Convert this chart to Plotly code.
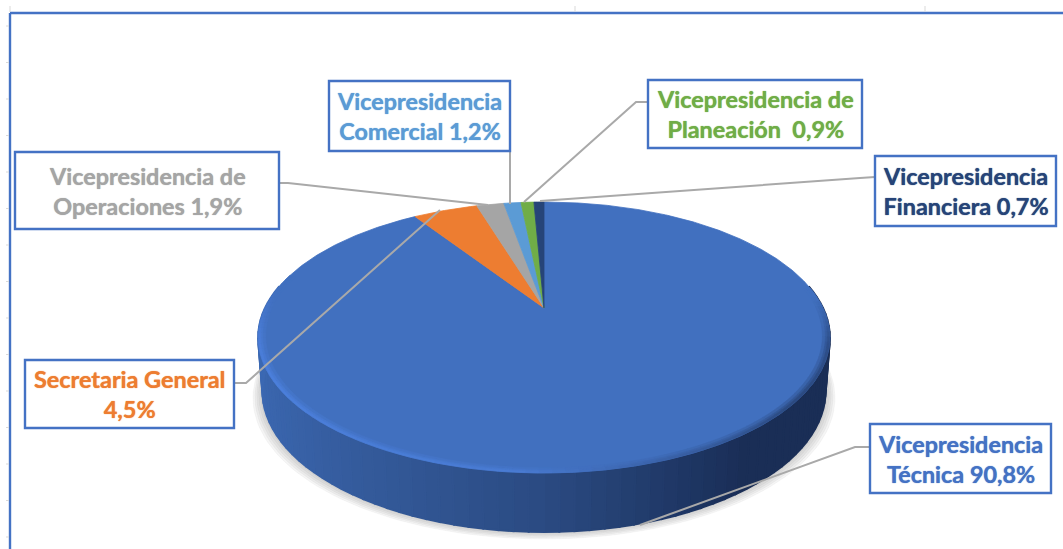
import numpy as np
import plotly.graph_objects as go

# ---- data ----
line1 = ["Vicepresidencia", "Secretaria General", "Vicepresidencia de", "Vicepresidencia", "Vicepresidencia de", "Vicepresidencia"]
line2 = ["Técnica", "", "Operaciones", "Comercial", "Planeación ", "Financiera"]
values = [90.8, 4.5, 1.9, 1.2, 0.9, 0.7]
colors = ["#4170BF", "#ED7D31", "#A5A5A5", "#5B9BD5", "#70AD47", "#264478"]
text_colors = ["#4472C4", "#ED7D31", "#A5A5A5", "#5B9BD5", "#70AD47", "#264478"]

# ---- layout constants (pixels of the 1063x549 canvas) ----
W, H = 1063, 549
CX, APEX_Y, TILT, K_X, K_Y = 544.0, 308.0, 0.2177, 279.0, -62.0
ELL_CY = 337.5
boxes = [(870, 424, 1051, 493), (25, 360, 234, 428), (15, 152, 279, 229),
         (329, 81, 510, 151), (648, 80, 862, 148), (875, 156, 1056, 226)]
leaders = [[(870, 447), (855, 447), (640, 525)],
           [(234, 383), (246, 383), (440, 210)],
           [(279, 183), (288, 183), (488, 205)],
           [(510, 151), (510, 204)],
           [(648, 102), (636, 102), (524, 202)],
           [(875, 177), (860, 178), (540, 201)]]
FONT = "Lato"
FONT_SIZE = 23.4


def project(theta_deg, r=1.0):
    t = np.radians(np.asarray(theta_deg, dtype=float))
    u, v = r * np.sin(t), r * np.cos(t)
    d = 1 + TILT * v
    return CX + K_X * u / d, (APEX_Y + K_Y * v) / d


def project_base(theta_deg):
    x, y = project(theta_deg)
    return CX + (x - CX) * 0.985, 391 + (y - ELL_CY) * 141 / 135.5


def hex2rgb(h):
    return np.array([int(h[i:i + 2], 16) for i in (1, 3, 5)], dtype=float)


def ramp(pos, keys, cols, mix=0.0, base="#4170BF"):
    rgb = np.array([hex2rgb(c) for c in cols])
    c = np.array([np.interp(pos, keys, rgb[:, i]) for i in range(3)])
    c = c * (1 - mix) + hex2rgb(base) * mix
    return "rgb(%d,%d,%d)" % tuple(c)


fig = go.Figure()


def poly(x, y, color, name=None, lw=0.8):
    fig.add_trace(go.Scatter(x=list(x), y=list(y), mode="lines", fill="toself", fillcolor=color,
                             line=dict(color=color, width=lw), hoverinfo="skip",
                             name=name, showlegend=False))


# soft shadow below the base
full = np.linspace(0, 360, 181)
for grow in (10, 8, 6, 4, 2):
    bx, by = project_base(full)
    poly(CX + (bx - CX) * (1 + grow / 300), by + grow * 0.7, "rgba(120,120,120,0.07)")

# side wall, shaded left to right
wall_keys = [-1, -0.5, 0, 0.4, 0.6, 1]
wall_cols = ["#3C69B3", "#345A9A", "#2B4B82", "#1F3765", "#1A2E56", "#1A2E56"]
edges = np.linspace(80, 280, 81)
for a, b in zip(edges[:-1], edges[1:]):
    xa, ya = project(a)
    xb, yb = project(b)
    xc, yc = project_base(b)
    xd, yd = project_base(a)
    pos = np.sin(np.radians((a + b) / 2))
    poly([xa, xb, xc, xd, xa], [ya, yb, yc, yd, ya], ramp(pos, wall_keys, wall_cols), lw=2)

# top face: one wedge per value, clockwise from 12 o'clock
total = sum(values)
start = 0.0
spans = []
for val, col, n1, n2 in zip(values, colors, line1, line2):
    end = start + 360 * val / total
    spans.append((start, end))
    th = np.linspace(start, end, max(3, int(end - start) * 2))
    x, y = project(th)
    poly(np.r_[CX, x, CX], np.r_[APEX_Y, y, APEX_Y], col, name=(n1 + " " + n2).strip())
    start = end

# bevel along the rim of the big wedge: outer strip, softer inner strips
rim_keys = [0, 85, 105, 130, 160, 185, 240, 258, 278, 327]
rim_cols = ["#4170BF", "#4170BF", "#2E4F8A", "#2C4A80", "#3A62A8", "#4A7CD4",
            "#4C80DC", "#4A7CD6", "#4170BF", "#4170BF"]
edges = np.linspace(spans[0][1], spans[0][0], 151)[::-1]
for r0, r1, mix in ((0.975, 0.985, 0.65), (0.985, 0.992, 0.3), (0.992, 1.0, 0.0)):
    for a, b in zip(edges[:-1], edges[1:]):
        mid = (a + b) / 2
        if mid < 80 or mid > 285:
            continue
        xa, ya = project(a, r1)
        xb, yb = project(b, r1)
        xc, yc = project(b, r0)
        xd, yd = project(a, r0)
        col = ramp(mid, rim_keys, rim_cols, mix)
        poly([xa, xb, xc, xd, xa], [ya, yb, yc, yd, ya], col, lw=0.6)

# leader lines
for pts in leaders:
    fig.add_trace(go.Scatter(x=[p[0] for p in pts], y=[p[1] for p in pts], mode="lines",
                             line=dict(color="#A9A9A9", width=2), hoverinfo="skip", showlegend=False))

shapes = []
annotations = []
for box, val, n1, n2, tc in zip(boxes, values, line1, line2, text_colors):
    x0, y0, x1, y1 = box
    shapes.append(dict(type="rect", x0=x0, y0=y0, x1=x1, y1=y1, xref="x", yref="y",
                       fillcolor="white", line=dict(color="#4472C4", width=2.4)))
    pct = f"{val:.1f}%".replace(".", ",")
    second = (n2 + " " + pct).strip()
    annotations.append(dict(x=(x0 + x1) / 2, y=(y0 + y1) / 2, xref="x", yref="y", showarrow=False,
                            text=f"<b>{n1}<br>{second}</b>", align="center",
                            font=dict(family=FONT, size=FONT_SIZE, color=tc, shadow=f"0 0 1px {tc}")))

# sheet frame and faint sheet ticks
frame = "#4472C4"
shapes.append(dict(type="line", x0=10, y0=13, x1=W, y1=13, line=dict(color=frame, width=2.4)))
shapes.append(dict(type="line", x0=10, y0=13, x1=10, y1=H, line=dict(color=frame, width=2.4)))
for ty in np.arange(26, H, 36.5):
    shapes.append(dict(type="line", x0=6, y0=ty, x1=9, y1=ty, line=dict(color="#D9D9D9", width=1)))
for tx in (10, 575, 925):
    shapes.append(dict(type="line", x0=tx, y0=6, x1=tx, y1=12, line=dict(color="#D9D9D9", width=1)))

fig.update_layout(width=W, height=H, margin=dict(l=0, r=0, t=0, b=0), showlegend=False,
                  paper_bgcolor="white", plot_bgcolor="white", shapes=shapes, annotations=annotations,
                  hovermode=False,
                  xaxis=dict(range=[0, W], visible=False, fixedrange=True),
                  yaxis=dict(range=[H, 0], visible=False, fixedrange=True))
fig.write_html("out.html", config=dict(displayModeBar=False),
               post_script="document.body.style.margin='0';document.body.style.overflow='hidden';")
